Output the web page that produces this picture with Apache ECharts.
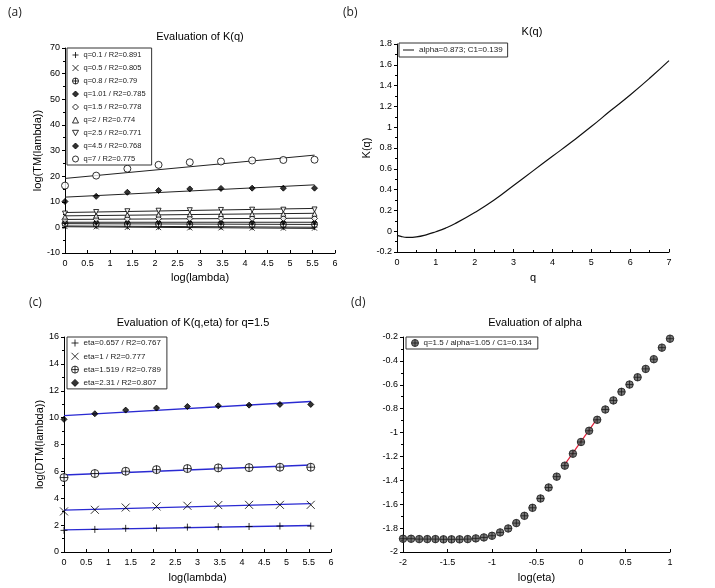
<!DOCTYPE html>
<html><head><meta charset="utf-8">
<script src="https://cdn.jsdelivr.net/npm/echarts@6/dist/echarts.min.js"></script>
<style>html,body{margin:0;padding:0;background:#fff}#c{width:715px;height:588px}</style>
</head><body><div id="c"></div>
<script>
// ---------- shared x values: log(lambda) ----------
const lambdaLog = [0, 0.693, 1.386, 2.079, 2.773, 3.466, 4.159, 4.852, 5.545];
const fitX = [0, 5.545];

// ---------- panel (a): log(TM(lambda)) for each q ----------
const qLabels = ['q=0.1 / R2=0.891', 'q=0.5 / R2=0.805', 'q=0.8 / R2=0.79', 'q=1.01 / R2=0.785',
  'q=1.5 / R2=0.778', 'q=2 / R2=0.774', 'q=2.5 / R2=0.771', 'q=4.5 / R2=0.768', 'q=7 / R2=0.775'];
const tmQ01  = [0.6, 0.5, 0.4, 0.3, 0.2, 0.2, 0.1, 0.1, 0.1];
const tmQ05  = [0.3, 0.2, 0.0, -0.1, -0.2, -0.2, -0.3, -0.3, -0.3];
const tmQ08  = [1.5, 1.4, 1.3, 1.3, 1.2, 1.2, 1.2, 1.2, 1.2];
const tmQ101 = [2.0, 2.0, 2.0, 2.0, 2.0, 2.0, 2.0, 2.0, 2.0];
const tmQ15  = [3.0, 3.2, 3.3, 3.4, 3.45, 3.5, 3.5, 3.5, 3.5];
const tmQ2   = [4.2, 4.6, 4.9, 5.0, 5.1, 5.2, 5.2, 5.3, 5.3];
const tmQ25  = [5.4, 6.0, 6.3, 6.5, 6.7, 6.8, 6.9, 6.9, 7.0];
const tmQ45  = [10.1, 12.1, 13.7, 14.4, 15.0, 15.2, 15.3, 15.3, 15.3];
const tmQ7   = [16.3, 20.2, 22.9, 24.4, 25.4, 25.7, 26.1, 26.3, 26.4];
// fitted line values at fitX
const fitQ01 = [0.55, 0.05];
const fitQ05 = [0.25, -0.4];
const fitQ08 = [1.45, 1.15];
const fitQ101 = [2.0, 2.0];
const fitQ15 = [3.1, 3.6];
const fitQ2 = [4.5, 5.5];
const fitQ25 = [5.8, 7.4];
const fitQ45 = [11.8, 16.6];
const fitQ7 = [19.1, 28.2];

// ---------- panel (b): K(q) ----------
const kLabel = 'alpha=0.873; C1=0.139';
const qValues = [0, 0.1, 0.2, 0.3, 0.5, 0.75, 1, 1.25, 1.5, 2, 2.5, 3, 3.5, 4, 4.5, 5, 5.5, 6, 6.5, 7];
const kValues = [-0.04, -0.05, -0.058, -0.06, -0.055, -0.035, -0.005, 0.03, 0.074, 0.18, 0.30, 0.44, 0.58, 0.72, 0.86, 1.006, 1.16, 1.31, 1.47, 1.64];

// ---------- panel (c): log(DTM(lambda)) for q=1.5 ----------
const etaLabels = ['eta=0.657 / R2=0.767', 'eta=1 / R2=0.777', 'eta=1.519 / R2=0.789', 'eta=2.31 / R2=0.807'];
const dtmEta0657 = [1.61, 1.68, 1.76, 1.78, 1.85, 1.88, 1.90, 1.93, 1.93];
const dtmEta1    = [3.02, 3.14, 3.31, 3.39, 3.44, 3.49, 3.51, 3.51, 3.51];
const dtmEta1519 = [5.54, 5.84, 6.01, 6.13, 6.21, 6.26, 6.28, 6.31, 6.31];
const dtmEta231  = [9.87, 10.29, 10.56, 10.71, 10.83, 10.88, 10.93, 10.98, 10.98];
const fitEta0657 = [1.65, 1.97];
const fitEta1    = [3.12, 3.60];
const fitEta1519 = [5.73, 6.47];
const fitEta231  = [10.15, 11.20];

// ---------- panel (d): evaluation of alpha ----------
const alphaLabel = 'q=1.5 / alpha=1.05 / C1=0.134';
const etaLog = [-2, -1.909, -1.818, -1.727, -1.636, -1.545, -1.455, -1.364, -1.273, -1.182, -1.091, -1,
  -0.909, -0.818, -0.727, -0.636, -0.545, -0.455, -0.364, -0.273, -0.182, -0.091, 0,
  0.091, 0.182, 0.273, 0.364, 0.455, 0.545, 0.636, 0.727, 0.818, 0.909, 1];
const kEta = [-1.889, -1.889, -1.892, -1.892, -1.892, -1.894, -1.894, -1.894, -1.892, -1.886, -1.878, -1.864,
  -1.836, -1.803, -1.758, -1.697, -1.630, -1.552, -1.460, -1.369, -1.277, -1.177, -1.079,
  -0.985, -0.893, -0.807, -0.731, -0.659, -0.598, -0.537, -0.467, -0.386, -0.289, -0.214];
const fitAlphaX = [-0.18, 0.18];
const fitAlphaY = [-1.265, -0.885];

// ---------- styles ----------
const FONT = 'Liberation Sans, Arial, sans-serif';
const PLUS = 'path://M-1,0L1,0M0,-1L0,1';
const CROSS = 'path://M-1,-1L1,1M-1,1L1,-1';
const OPLUS = 'path://M0,-1A1,1,0,1,1,0,1A1,1,0,1,1,0,-1ZM-1,0L1,0M0,-1L0,1';
const TRIDOWN = 'path://M-1,-0.9L1,-0.9L0,0.9Z';
const filled = {color: '#000', borderColor: '#000', borderWidth: 1};
const hollow = {color: '#fff', borderColor: '#000', borderWidth: 1};

function pts(xs, ys) { return xs.map((x, i) => [x, ys[i]]); }
function scatter(name, idx, xs, ys, symbol, size, style) {
  return {type: 'scatter', name, xAxisIndex: idx, yAxisIndex: idx, data: pts(xs, ys),
    symbol, symbolSize: size, itemStyle: style, z: 3, silent: true};
}
function fitLine(name, idx, xs, ys, color, width) {
  return {type: 'line', name, xAxisIndex: idx, yAxisIndex: idx, data: pts(xs, ys),
    symbol: 'none', lineStyle: {color, width}, z: 2, silent: true};
}

const aSeries = [
  [tmQ01, fitQ01, PLUS, 6, filled],
  [tmQ05, fitQ05, CROSS, 5, filled],
  [tmQ08, fitQ08, OPLUS, 6, hollow],
  [tmQ101, fitQ101, 'diamond', 5, filled],
  [tmQ15, fitQ15, 'diamond', 6, hollow],
  [tmQ2, fitQ2, 'triangle', 5, hollow],
  [tmQ25, fitQ25, TRIDOWN, 5, hollow],
  [tmQ45, fitQ45, 'diamond', 6, filled],
  [tmQ7, fitQ7, 'circle', 7, hollow]
];
const cSeries = [
  [dtmEta0657, fitEta0657, PLUS, 7, filled],
  [dtmEta1, fitEta1, CROSS, 8, filled],
  [dtmEta1519, fitEta1519, OPLUS, 8, hollow],
  [dtmEta231, fitEta231, 'diamond', 6, filled]
];

const series = [];
aSeries.forEach((s, i) => {
  series.push(fitLine('fitA' + i, 0, fitX, s[1], '#222', 1));
  series.push(scatter(qLabels[i], 0, lambdaLog, s[0], s[2], s[3], s[4]));
});
series.push({type: 'line', name: kLabel, xAxisIndex: 1, yAxisIndex: 1, data: pts(qValues, kValues),
  smooth: true, symbol: 'none', lineStyle: {color: '#111', width: 1.2}, itemStyle: {color: '#111'}, silent: true});
cSeries.forEach((s, i) => {
  series.push(fitLine('fitC' + i, 2, fitX, s[1], '#2a2ad2', 1.4));
  series.push(scatter(etaLabels[i], 2, lambdaLog, s[0], s[2], s[3], s[4]));
});
series.push(scatter(alphaLabel, 3, etaLog, kEta, OPLUS, 7.5, {color: '#555', borderColor: '#1a1a1a', borderWidth: 1}));
series.push(fitLine('fitD', 3, fitAlphaX, fitAlphaY, '#e0203a', 1.2));

function xAx(idx, min, max, interval, name, gap, minor) {
  return {type: 'value', gridIndex: idx, min, max, interval, name, nameLocation: 'middle', nameGap: gap,
    nameTextStyle: {fontSize: 11, color: '#000', fontFamily: FONT},
    axisLine: {onZero: false, lineStyle: {color: '#000', width: 1}},
    axisTick: {inside: true, length: 3, lineStyle: {color: '#000'}},
    minorTick: {show: minor, splitNumber: 2, length: 2, lineStyle: {color: '#000'}},
    axisLabel: {color: '#000', fontSize: 9, fontFamily: FONT, margin: 6},
    splitLine: {show: false}};
}
function yAx(idx, min, max, interval, name, gap) {
  return {type: 'value', gridIndex: idx, min, max, interval, name, nameLocation: 'middle', nameGap: gap,
    nameTextStyle: {fontSize: 11, color: '#000', fontFamily: FONT},
    axisLine: {onZero: false, lineStyle: {color: '#000', width: 1}},
    axisTick: {length: 3, lineStyle: {color: '#000'}},
    minorTick: {show: true, splitNumber: 2, length: 2, lineStyle: {color: '#000'}},
    axisLabel: {color: '#000', fontSize: 9, fontFamily: FONT, margin: 5},
    splitLine: {show: false}};
}
function legend(left, top, names, icons, opts) {
  return Object.assign({
    left, top, orient: 'vertical', selectedMode: false,
    data: names.map((n, i) => icons ? {name: n, icon: icons[i]} : {name: n}),
    itemWidth: 6, itemHeight: 6, itemGap: 5.0, padding: [3, 6, 2, 5],
    borderColor: '#333', borderWidth: 1, backgroundColor: '#fff',
    itemStyle: {borderWidth: 1},
    textStyle: {fontSize: 8, color: '#222', fontFamily: FONT}
  }, opts || {});
}
function title(text, x, top) {
  return {text, left: x, top, textAlign: 'center', padding: 0,
    textStyle: {fontSize: 11, fontWeight: 'normal', color: '#000', fontFamily: FONT}};
}
function tag(text, x, y) {
  return {type: 'text', left: x, top: y, style: {text, fontSize: 12, fill: '#222', fontFamily: 'Open Sans, sans-serif'}};
}

const option = {
  animation: false,
  backgroundColor: '#fff',
  title: [
    title('Evaluation of K(q)', 200, 31),
    title('K(q)', 532, 26),
    title('Evaluation of K(q,eta) for q=1.5', 193, 317),
    title('Evaluation of alpha', 535, 317)
  ],
  grid: [
    {left: 65, top: 48, width: 270, height: 205},
    {left: 397, top: 44, width: 272, height: 208},
    {left: 64, top: 337, width: 267, height: 215},
    {left: 403, top: 337, width: 267, height: 215}
  ],
  xAxis: [
    xAx(0, 0, 6, 0.5, 'log(lambda)', 19, false),
    xAx(1, 0, 7, 1, 'q', 20, true),
    xAx(2, 0, 6, 0.5, 'log(lambda)', 20, false),
    xAx(3, -2, 1, 0.5, 'log(eta)', 20, false)
  ],
  yAxis: [
    yAx(0, -10, 70, 10, 'log(TM(lambda))', 22),
    yAx(1, -0.2, 1.8, 0.2, 'K(q)', 24),
    yAx(2, 0, 16, 2, 'log(DTM(lambda))', 16),
    yAx(3, -2, -0.2, 0.2, '', 20)
  ],
  legend: [
    legend(67, 48, qLabels, aSeries.map(s => s[2]), {textStyle: {fontSize: 7.5, color: '#222', fontFamily: FONT}}),
    legend(399, 43, [kLabel], ['rect'], {itemWidth: 11, itemHeight: 1, padding: [3, 5, 3, 4], itemStyle: {borderWidth: 0}}),
    legend(67, 337, etaLabels, cSeries.map(s => s[2]), {itemWidth: 7, itemHeight: 7, itemGap: 5.3, padding: [2, 6, 2, 4]}),
    legend(406, 337, [alphaLabel], [OPLUS], {itemWidth: 7, itemHeight: 7, padding: [2, 6, 2, 5]})
  ],
  graphic: [
    tag('(a)', 8, 7),
    tag('(b)', 343, 7),
    tag('(c)', 29, 297),
    tag('(d)', 351, 297)
  ],
  series
};
const chart = echarts.init(document.getElementById('c'), null, {renderer: 'canvas'});
chart.setOption(option);
</script>
</body></html>
